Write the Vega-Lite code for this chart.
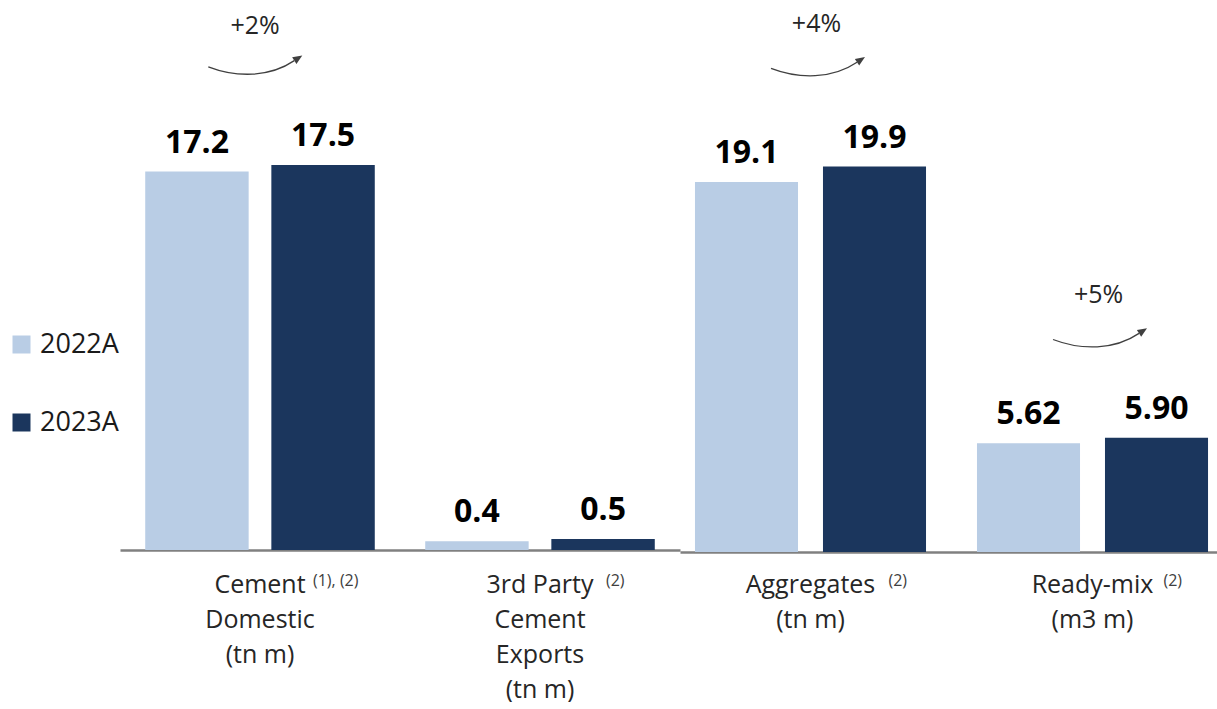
{
  "$schema": "https://vega.github.io/schema/vega-lite/v6.json",
  "padding": {"left": 8, "top": 0, "right": 0, "bottom": 0},
  "datasets": {
    "vol": [
      {"panel": "L", "cat": "Cement|Domestic|(tn m)", "year": "2022A", "value": 17.2, "label": "17.2", "note": "(1), (2)"},
      {"panel": "L", "cat": "Cement|Domestic|(tn m)", "year": "2023A", "value": 17.5, "label": "17.5", "growth": "+2%"},
      {"panel": "L", "cat": "3rd Party|Cement|Exports|(tn m)", "year": "2022A", "value": 0.4, "label": "0.4", "note": "(2)"},
      {"panel": "L", "cat": "3rd Party|Cement|Exports|(tn m)", "year": "2023A", "value": 0.5, "label": "0.5"},
      {"panel": "R", "cat": "Aggregates|(tn m)", "year": "2022A", "value": 19.1, "label": "19.1", "note": "(2)"},
      {"panel": "R", "cat": "Aggregates|(tn m)", "year": "2023A", "value": 19.9, "label": "19.9", "growth": "+4%"},
      {"panel": "R", "cat": "Ready-mix|(m3 m)", "year": "2022A", "value": 5.62, "label": "5.62", "note": "(2)"},
      {"panel": "R", "cat": "Ready-mix|(m3 m)", "year": "2023A", "value": 5.90, "label": "5.90", "growth": "+5%"}
    ]
  },
  "data": {"name": "vol"},
  "spacing": 0,
  "hconcat": [
    {
      "width": 560,
      "height": 550,
      "transform": [{"filter": "datum.panel == 'L'"}],
      "encoding": {
        "x": {
          "field": "cat", "type": "nominal", "sort": null,
          "scale": {"paddingInner": 0, "paddingOuter": 0},
          "axis": {"title": null, "labelExpr": "split(datum.label, '|')", "labelAngle": 0, "labelFontSize": 25, "labelFont": "Open Sans", "labelColor": "#262626", "labelLineHeight": 35, "labelPadding": 22, "labelLimit": 0, "ticks": false, "domainColor": "#808080", "domainWidth": 2.5}
        },
        "y": {"field": "value", "type": "quantitative", "scale": {"domain": [0, 25]}, "axis": null}
      },
      "layer": [
        {
          "mark": {"type": "bar"},
          "encoding": {
            "xOffset": {"field": "year", "type": "nominal", "scale": {"paddingInner": 0.18, "paddingOuter": 0.2}},
            "color": {"field": "year", "type": "nominal", "scale": {"domain": ["2022A", "2023A"], "range": ["#B9CDE5", "#1B365D"]},
              "legend": {"orient": "none", "legendX": -112, "legendY": 331, "title": null, "symbolType": "square", "symbolSize": 324, "symbolStrokeWidth": 0, "labelFontSize": 27, "labelFont": "Open Sans", "labelColor": "#1a1a1a", "rowPadding": 50, "labelOffset": 5}}
          }
        },
        {
          "mark": {"type": "text", "font": "Open Sans", "fontWeight": "bold", "fontSize": 32, "dy": -19, "baseline": "alphabetic", "color": "#000000"},
          "encoding": {
            "xOffset": {"field": "year", "type": "nominal", "scale": {"paddingInner": 0.18, "paddingOuter": 0.2}},
            "text": {"field": "label"}
          }
        },
        {
          "transform": [{"filter": "isValid(datum.growth)"}],
          "mark": {"type": "text", "font": "Open Sans", "fontSize": 25, "dy": -139, "dx": -5, "baseline": "middle", "color": "#262626"},
          "encoding": {"text": {"field": "growth"}}
        },
        {
          "transform": [{"filter": "isValid(datum.growth)"}],
          "mark": {"type": "point", "shape": "M-1.1,-2.09C-0.5,-1.86,0.2,-1.86,0.73,-2.22", "size": 8836, "filled": false, "color": "#404040", "strokeWidth": 1.3, "opacity": 1}
        },
        {
          "transform": [{"filter": "isValid(datum.growth)"}],
          "mark": {"type": "point", "shape": "M0.9,-2.33L0.776,-2.149L0.684,-2.291Z", "size": 8836, "filled": true, "color": "#404040", "strokeWidth": 0, "opacity": 1}
        },
        {
          "transform": [{"filter": "isValid(datum.note) && indexof(datum.cat, 'Cement|') == 0"}],
          "mark": {"type": "text", "font": "Open Sans", "fontSize": 16, "align": "left", "baseline": "top", "dx": 53, "dy": 23, "color": "#404040"},
          "encoding": {"y": {"datum": 0, "type": "quantitative"}, "text": {"field": "note"}}
        },
        {
          "transform": [{"filter": "isValid(datum.note) && indexof(datum.cat, '3rd Party') == 0"}],
          "mark": {"type": "text", "font": "Open Sans", "fontSize": 16, "align": "left", "baseline": "top", "dx": 66, "dy": 23, "color": "#404040"},
          "encoding": {"y": {"datum": 0, "type": "quantitative"}, "text": {"field": "note"}}
        }
      ]
    },
    {
      "width": 543,
      "height": 552,
      "transform": [{"filter": "datum.panel == 'R'"}],
      "encoding": {
        "x": {
          "field": "cat", "type": "nominal", "sort": null,
          "scale": {"paddingInner": 0.0745, "paddingOuter": 0},
          "axis": {"title": null, "labelExpr": "split(datum.label, '|')", "labelAngle": 0, "labelFontSize": 25, "labelFont": "Open Sans", "labelColor": "#262626", "labelLineHeight": 35, "labelPadding": 20, "labelLimit": 0, "ticks": false, "domainColor": "#808080", "domainWidth": 2.5}
        },
        "y": {"field": "value", "type": "quantitative", "scale": {"domain": [0, 28.5]}, "axis": null}
      },
      "layer": [
        {
          "mark": {"type": "bar"},
          "encoding": {
            "xOffset": {"field": "year", "type": "nominal", "scale": {"paddingInner": 0.195, "paddingOuter": 0.117}},
            "color": {"field": "year", "type": "nominal", "scale": {"domain": ["2022A", "2023A"], "range": ["#B9CDE5", "#1B365D"]}}
          }
        },
        {
          "mark": {"type": "text", "font": "Open Sans", "fontWeight": "bold", "fontSize": 32, "dy": -19, "baseline": "alphabetic", "color": "#000000"},
          "encoding": {
            "xOffset": {"field": "year", "type": "nominal", "scale": {"paddingInner": 0.195, "paddingOuter": 0.117}},
            "text": {"field": "label"}
          }
        },
        {
          "transform": [{"filter": "isValid(datum.growth)"}],
          "mark": {"type": "text", "font": "Open Sans", "fontSize": 25, "dy": -143, "dx": 6, "baseline": "middle", "color": "#262626"},
          "encoding": {"text": {"field": "growth"}}
        },
        {
          "transform": [{"filter": "isValid(datum.growth)"}],
          "mark": {"type": "point", "shape": "M-0.84,-2.09C-0.24,-1.86,0.46,-1.86,0.99,-2.22", "size": 8836, "filled": false, "color": "#404040", "strokeWidth": 1.3, "opacity": 1}
        },
        {
          "transform": [{"filter": "isValid(datum.growth)"}],
          "mark": {"type": "point", "shape": "M1.16,-2.33L1.036,-2.149L0.944,-2.291Z", "size": 8836, "filled": true, "color": "#404040", "strokeWidth": 0, "opacity": 1}
        },
        {
          "transform": [{"filter": "isValid(datum.note) && indexof(datum.cat, 'Aggregates') == 0"}],
          "mark": {"type": "text", "font": "Open Sans", "fontSize": 16, "align": "left", "baseline": "top", "dx": 78, "dy": 21, "color": "#404040"},
          "encoding": {"y": {"datum": 0, "type": "quantitative"}, "text": {"field": "note"}}
        },
        {
          "transform": [{"filter": "isValid(datum.note) && indexof(datum.cat, 'Ready-mix') == 0"}],
          "mark": {"type": "text", "font": "Open Sans", "fontSize": 16, "align": "left", "baseline": "top", "dx": 71, "dy": 21, "color": "#404040"},
          "encoding": {"y": {"datum": 0, "type": "quantitative"}, "text": {"field": "note"}}
        }
      ]
    }
  ],
  "resolve": {"scale": {"y": "independent", "x": "independent", "xOffset": "independent"}},
  "config": {"view": {"stroke": null}, "font": "Open Sans", "background": "#ffffff"}
}
